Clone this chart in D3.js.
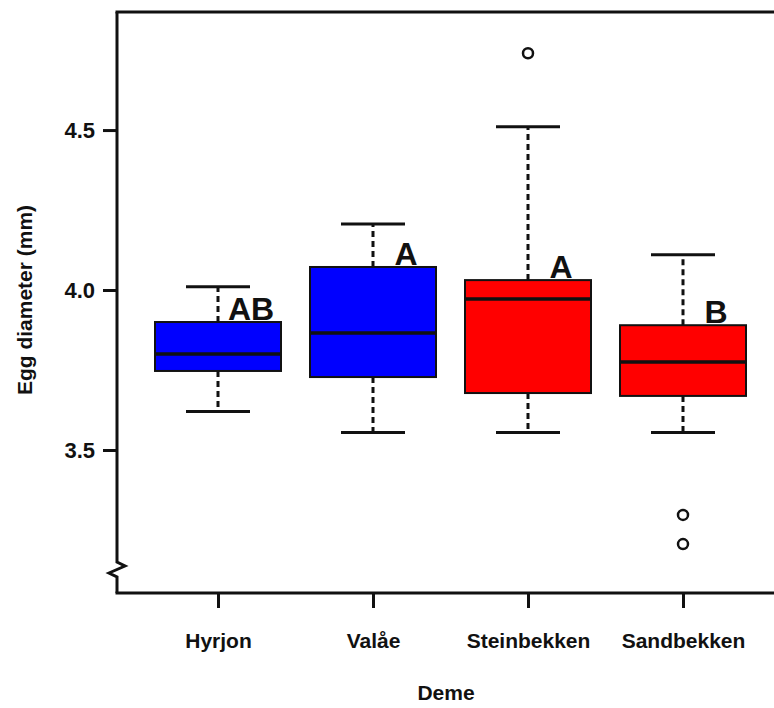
<!DOCTYPE html>
<html>
<head>
<meta charset="utf-8">
<script src="https://cdn.jsdelivr.net/npm/d3@7"></script>
<style>
    body { margin: 0; background: #fff; }
    text { font-family: "Liberation Sans", Arial, sans-serif; }
</style>
</head>
<body>
<div id="chart-area"></div>
<script>
// Data
var categories = ["Hyrjon", "Valåe", "Steinbekken", "Sandbekken"];
var whiskerLow  = [3.62, 3.555, 3.555, 3.555];
var q1          = [3.747, 3.728, 3.678, 3.669];
var median      = [3.80, 3.866, 3.972, 3.775];
var q3          = [3.90, 4.072, 4.031, 3.89];
var whiskerHigh = [4.01, 4.206, 4.51, 4.11];
var outliers    = [[], [], [4.74], [3.297, 3.206]];
var letters     = ["AB", "A", "A", "B"];
var fills       = ["#0000ff", "#0000ff", "#ff0000", "#ff0000"];
var yTicks      = [3.5, 4.0, 4.5];

var W = 774, H = 708;
var plotLeft = 117, plotTop = 12, plotBottom = 593;

var svg = d3.select("#chart-area")
    .append("svg")
        .attr("width", W)
        .attr("height", H);

// Scales
var x = d3.scalePoint()
    .domain(categories)
    .range([218, 683]);

var y = d3.scaleLinear()
    .domain([3.053, 4.869])
    .range([plotBottom, plotTop]);

var boxHalf = 63, capHalf = 32;

// Frame: top border
svg.append("line")
    .attr("x1", plotLeft - 1.5).attr("x2", W)
    .attr("y1", plotTop).attr("y2", plotTop)
    .attr("stroke", "#111").attr("stroke-width", 3);

// Left axis line with a break near the bottom
var breakPath = [[plotLeft, plotTop], [plotLeft, 562], [125, 566], [109, 573], [plotLeft, 577], [plotLeft, plotBottom]];
svg.append("path")
    .attr("d", d3.line()(breakPath))
    .attr("fill", "none")
    .attr("stroke", "#111")
    .attr("stroke-width", 3)
    .attr("stroke-linejoin", "miter");

// Y axis ticks
var yAxisCall = d3.axisLeft(y)
    .tickValues(yTicks)
    .tickSize(14)
    .tickPadding(8)
    .tickFormat(d3.format(".1f"));
var yAxisGroup = svg.append("g")
    .attr("transform", "translate(" + plotLeft + ",0)")
    .call(yAxisCall);
yAxisGroup.select(".domain").remove();
yAxisGroup.selectAll("line").attr("stroke", "#111").attr("stroke-width", 3);
yAxisGroup.selectAll("text")
    .attr("font-size", "22px")
    .attr("font-weight", "bold")
    .attr("font-family", "'Liberation Sans', Arial, sans-serif")
    .attr("fill", "#111");

// X axis
var xAxisCall = d3.axisBottom(x)
    .tickSize(15)
    .tickPadding(25);
var xAxisGroup = svg.append("g")
    .attr("transform", "translate(0," + plotBottom + ")")
    .call(xAxisCall);
xAxisGroup.select(".domain").remove();
xAxisGroup.selectAll("line").attr("stroke", "#111").attr("stroke-width", 3);
xAxisGroup.selectAll("text")
    .attr("font-size", "21px")
    .attr("font-weight", "bold")
    .attr("font-family", "'Liberation Sans', Arial, sans-serif")
    .attr("fill", "#111");

svg.append("line")
    .attr("x1", plotLeft - 1.5).attr("x2", W)
    .attr("y1", plotBottom).attr("y2", plotBottom)
    .attr("stroke", "#111").attr("stroke-width", 3);

// Axis titles
svg.append("text")
    .attr("x", 446)
    .attr("y", 700)
    .attr("text-anchor", "middle")
    .attr("font-size", "21px")
    .attr("font-weight", "bold")
    .attr("fill", "#111")
    .text("Deme");

svg.append("text")
    .attr("transform", "translate(32,300) rotate(-90)")
    .attr("text-anchor", "middle")
    .attr("font-size", "21px")
    .attr("font-weight", "bold")
    .attr("fill", "#111")
    .text("Egg diameter (mm)");

// Boxes
var g = svg.append("g");
categories.forEach(function(c, i) {
    var cx = x(c);

    // dashed whiskers
    g.append("line")
        .attr("x1", cx).attr("x2", cx)
        .attr("y1", y(q3[i])).attr("y2", y(whiskerHigh[i]))
        .attr("stroke", "#111").attr("stroke-width", 3)
        .attr("stroke-dasharray", "6,4");
    g.append("line")
        .attr("x1", cx).attr("x2", cx)
        .attr("y1", y(q1[i])).attr("y2", y(whiskerLow[i]))
        .attr("stroke", "#111").attr("stroke-width", 3)
        .attr("stroke-dasharray", "6,4");

    // caps
    [whiskerHigh[i], whiskerLow[i]].forEach(function(v) {
        g.append("line")
            .attr("x1", cx - capHalf).attr("x2", cx + capHalf)
            .attr("y1", y(v)).attr("y2", y(v))
            .attr("stroke", "#111").attr("stroke-width", 3);
    });

    // box
    g.append("rect")
        .attr("x", cx - boxHalf)
        .attr("y", y(q3[i]))
        .attr("width", boxHalf * 2)
        .attr("height", y(q1[i]) - y(q3[i]))
        .attr("fill", fills[i])
        .attr("stroke", "#111")
        .attr("stroke-width", 2);

    // median
    g.append("line")
        .attr("x1", cx - boxHalf).attr("x2", cx + boxHalf)
        .attr("y1", y(median[i])).attr("y2", y(median[i]))
        .attr("stroke", "#111").attr("stroke-width", 3.5);

    // outliers
    outliers[i].forEach(function(v) {
        g.append("circle")
            .attr("cx", cx).attr("cy", y(v))
            .attr("r", 5)
            .attr("fill", "#fff")
            .attr("stroke", "#111")
            .attr("stroke-width", 2.5);
    });

    // group letter
    g.append("text")
        .attr("x", cx + 33)
        .attr("y", y(q3[i]) - 2)
        .attr("text-anchor", "middle")
        .attr("font-size", "32px")
        .attr("font-weight", "bold")
        .attr("fill", "#111")
        .text(letters[i]);
});
</script>
</body>
</html>
